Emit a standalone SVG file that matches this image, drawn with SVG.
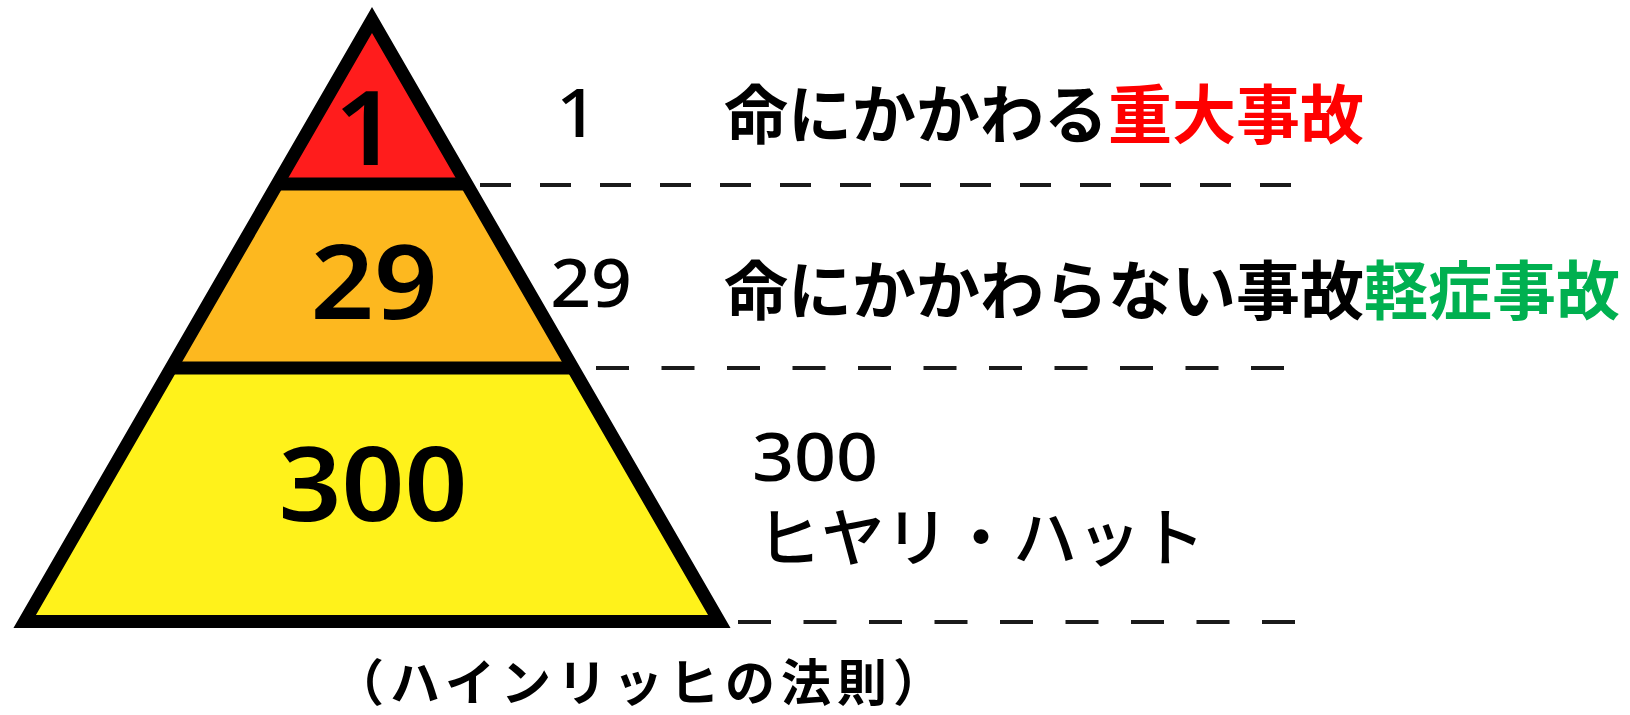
<svg xmlns="http://www.w3.org/2000/svg" width="1630" height="715" viewBox="0 0 1630 715">
  <style>
    .jp { font-family: "Noto Sans CJK JP", "Noto Sans", sans-serif; }
    .lat { font-family: "Noto Sans", "Open Sans", sans-serif; }
    .big { font-size: 103px; font-weight: 600; fill: #000; text-anchor: middle; }
    .num { font-size: 68px; font-weight: 500; fill: #000; }
    .lbl { font-size: 64px; font-weight: 700; fill: #000; }
    .sub { font-size: 64px; font-weight: 500; fill: #000; }
    .cap { font-size: 50px; font-weight: 700; fill: #000; letter-spacing: 6px; }
    .edge { fill: none; stroke: #000; stroke-width: 13; stroke-linejoin: miter; }
    .dash1 { stroke: #1a1a1a; stroke-width: 4; stroke-dasharray: 31 29; }
    .dash2 { stroke: #1a1a1a; stroke-width: 4; stroke-dasharray: 33 32.5; }
  </style>

  <g id="tier-top">
    <polygon points="372,20 466.7,184 277.3,184" fill="#ff1c1c"/>
    <text class="lat big" transform="translate(366,165) scale(1.08,1)">1</text>
  </g>
  <g id="tier-middle">
    <polygon points="277.3,184 466.7,184 572.9,368 171.1,368" fill="#fdb81f"/>
    <text class="lat big" transform="translate(374,319) scale(1.08,1)">29</text>
  </g>
  <g id="tier-bottom">
    <polygon points="171.1,368 572.9,368 719.3,621.5 24.7,621.5" fill="#fff21b"/>
    <text class="lat big" transform="translate(373,521) scale(1.07,1)">300</text>
  </g>
  <g id="pyramid-outline">
    <polygon class="edge" points="372,20 719.3,621.5 24.7,621.5"/>
    <line class="edge" x1="277.3" y1="184" x2="466.7" y2="184"/>
    <line class="edge" x1="171.1" y1="368" x2="572.9" y2="368"/>
  </g>

  <g id="connectors">
    <line class="dash1" x1="480" y1="185" x2="1292" y2="185"/>
    <line class="dash2" x1="596" y1="368" x2="1285" y2="368"/>
    <line class="dash2" x1="738" y1="622" x2="1296" y2="622"/>
  </g>

  <g id="label-1">
    <text class="lat num" text-anchor="middle" transform="translate(577,137) scale(1.08,1)">1</text>
    <text class="jp lbl" x="724" y="138">命にかかわる<tspan fill="#ff0000">重大事故</tspan></text>
  </g>
  <g id="label-29">
    <text class="lat num" text-anchor="middle" transform="translate(591,307) scale(1.05,1)">29</text>
    <text class="jp lbl" x="724" y="314">命にかかわらない事故<tspan fill="#00b050">軽症事故</tspan></text>
  </g>
  <g id="label-300">
    <text class="lat num" transform="translate(752,481) scale(1.08,1)">300</text>
    <text class="jp sub" x="757" y="561">ヒヤリ・ハット</text>
  </g>
  <g id="caption">
    <text class="jp cap" x="334" y="701">（ハインリッヒの法則）</text>
  </g>
</svg>
